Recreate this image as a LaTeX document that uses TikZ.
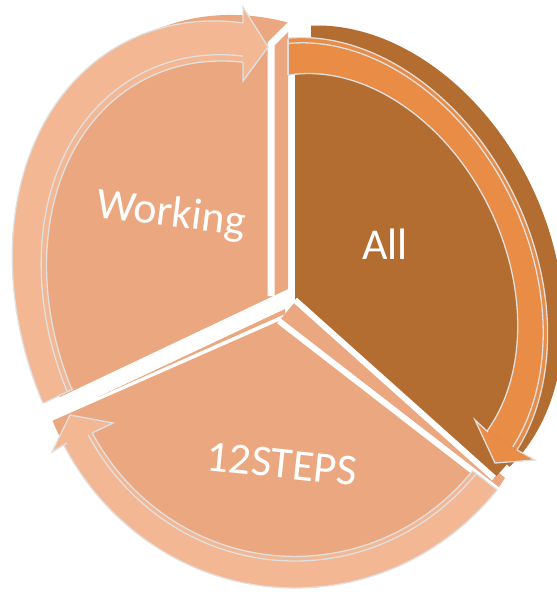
\documentclass[tikz,border=0pt]{standalone}
\usepackage{fontspec}
\setmainfont{Carlito}

\definecolor{wedgelight}{HTML}{EBA880}
\definecolor{bandlight}{HTML}{F3B793}
\definecolor{wedgedark}{HTML}{B46D31}
\definecolor{banddark}{HTML}{E98C45}
\definecolor{rimgrey}{HTML}{E0E0E0}

% outer rims of the three pieces, scaled by #1
\newcommand{\wkell}[1]{(270.1,322.2) ellipse [x radius={#1*315.3}, y radius={#1*240.4}]}
\newcommand{\stell}[1]{(295,318) ellipse [x radius={#1*262}, y radius={#1*270}]}
\newcommand{\alell}[1]{(348.6,277.6) ellipse [x radius={#1*251.1}, y radius={#1*184.8}]}

\begin{document}
\begin{tikzpicture}[x=1pt, y=-1pt,
    rim/.style={draw=rimgrey, line width=1.3pt},
    gap/.style={draw=white, line width=6pt},
    wkrot/.style={rotate around={-62.8:(270.1,322.2)}},
    alrot/.style={rotate around={-64.3:(348.6,277.6)}},
    seglabel/.style={text=white, font=\fontsize{44}{50}\selectfont}]
\useasboundingbox (0,0) rectangle (557,592);

% 12STEPS piece
\fill[wedgelight] (279,321) -- (300,296) -- (505,478) -- (497,490) -- cycle;
\begin{scope}
  \clip (279,321) -- (-40,461.4) -- (-40,640) -- (620,640) -- (620,584.9) -- cycle;
  \fill[wedgelight] \stell{1};
\end{scope}
\draw[gap] (279,321) -- (497.3,489.9);
\fill[wedgelight] (98,397) -- (285,309) -- (285,314) -- cycle;

% Working piece
\begin{scope}[shift={(17,-6)}]
  \clip (271,295) -- (271,-40) -- (-40,-40) -- (-40,442.3) -- cycle;
  \fill[wedgelight, wkrot] \wkell{1};
\end{scope}
\begin{scope}
  \clip (271,295) -- (271,-40) -- (-40,-40) -- (-40,442.3) -- cycle;
  \fill[wedgelight, wkrot] \wkell{1};
\end{scope}
\draw[gap, line width=7pt] (271,296) -- (271,44) -- (293,22);

% All piece
\begin{scope}[shift={(16,-12)}]
  \clip (295,300) -- (295,-40) -- (620,-40) -- (620,592.5) -- cycle;
  \fill[wedgedark, alrot] \alell{1};
\end{scope}
\begin{scope}
  \clip (295,300) -- (295,-40) -- (620,-40) -- (620,592.5) -- cycle;
  \fill[wedgedark, alrot] \alell{1};
\end{scope}
\draw[gap] (295,300) -- (494,478);

% arrow round Working
\begin{scope}
  \clip (244,100) -- (244,-40) -- (-40,-40) -- (-40,442.3) -- (150,352.3) -- cycle;
  \fill[bandlight, even odd rule, wkrot] \wkell{1} \wkell{0.867};
  \draw[rim, wkrot] \wkell{1} \wkell{0.867} \wkell{0.888};
\end{scope}
\draw[rim] (44,403) -- (73,389);
\filldraw[fill=bandlight, rim] (243,23) -- (243,7) -- (268,47) -- (243,81) -- (243,62);

% arrow round 12STEPS
\begin{scope}
  \clip (620,584.9) -- (400,414.7) -- (150,409.8) -- (-40,485.8) -- (-40,640) -- (620,640) -- cycle;
  \fill[bandlight, even odd rule] \stell{1} \stell{0.883};
  \draw[rim] \stell{1} \stell{0.883} \stell{0.9};
\end{scope}
\draw[rim] (472.8,471) -- (497.3,489.9);
\filldraw[fill=bandlight, rim] (67,443) -- (52,452) -- (70,415) -- (113,423) -- (92,433);

% arrow round All
\begin{scope}
  \clip (288,200) -- (288,-40) -- (620,-40) -- (620,513.9) -- (400,377.4) -- cycle;
  \fill[banddark, even odd rule, alrot] \alell{1} \alell{0.85};
  \draw[rim, alrot] \alell{1} \alell{0.85} \alell{0.978};
\end{scope}
\draw[rim] (288,38.5) -- (288,75);
\filldraw[fill=banddark, rim] (517,450) -- (535,460) -- (495,463) -- (475,420) -- (488,432);

\node[seglabel, rotate=-7] (working) at (171,215) {Working};
\node[seglabel] (all) at (385,244) {All};
\node[seglabel, rotate=-6] (steps) at (282,464) {12STEPS};
\end{tikzpicture}
\end{document}
